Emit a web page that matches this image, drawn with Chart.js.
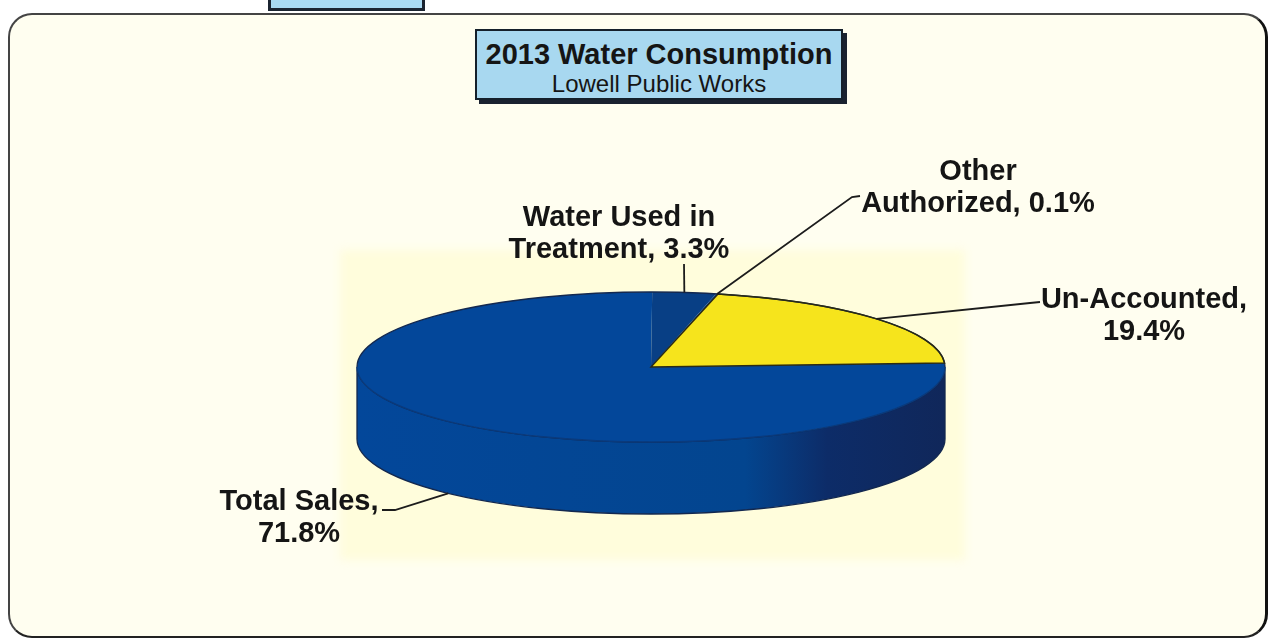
<!DOCTYPE html>
<html>
<head>
<meta charset="utf-8">
<title>2013 Water Consumption</title>
<script src="https://cdn.jsdelivr.net/npm/chart.js@4"></script>
<style>
    html, body { margin: 0; padding: 0; background: #fff; overflow: hidden; }
    body { width: 1269px; height: 638px; position: relative; font-family: "Liberation Sans", Arial, sans-serif; color: #151515; }
    #tab { position: absolute; left: 268px; top: -4px; width: 151px; height: 9px; background: #a9daf2; border: 3px solid #1b2430; }
    #frame { position: absolute; left: 8px; top: 13px; width: 1255px; height: 621px; box-sizing: content-box; background: #fffef0;
        border-top: 2px solid #444; border-left: 2px solid #444; border-right: 3px solid #111; border-bottom: 2px solid #222; border-radius: 24px; }
    #glow { position: absolute; left: 340px; top: 250px; width: 625px; height: 310px; background: #fffddc; filter: blur(4px); }
    #titleBox { position: absolute; left: 475px; top: 29px; width: 364px; height: 67px; background: #a8d8f0; border: 2px solid #15202b;
        box-shadow: 4px 4px 0 #1a2230; text-align: center; }
    #titleBox .main { font-size: 29px; font-weight: bold; line-height: 34px; margin-top: 6px; white-space: nowrap; }
    #titleBox .sub { font-size: 24px; line-height: 25px; white-space: nowrap; }
    canvas { position: absolute; left: 0; top: 0; }
</style>
</head>
<body>
<div id="tab"></div>
<div id="frame"></div>
<div id="glow"></div>
<div id="titleBox">
    <div class="main">2013 Water Consumption</div>
    <div class="sub">Lowell Public Works</div>
</div>
<canvas id="myChart" width="1269" height="638"></canvas>
<script>
const categories = ['Total Sales', 'Water Used in Treatment', 'Other Authorized', 'Un-Accounted']
const shares = [71.8, 3.3, 0.1, 19.4]
const sliceColors = ['#03479a', '#083f85', '#083f85', '#f6e41c']

// how each label is broken and where it sits, same order as categories
const labelLines = [
    ['Total Sales,', '71.8%'],
    ['Water Used in', 'Treatment, 3.3%'],
    ['Other', 'Authorized, 0.1%'],
    ['Un-Accounted,', '19.4%']
]
const labelSpots = [
    { x: 299, y: 502, leader: [[395, 510], [382, 510]] },
    { x: 619, y: 218, leader: [[684, 264]] },
    { x: 978, y: 172, leader: [[852, 197], [860, 196]] },
    { x: 1144, y: 300, leader: [[1030, 303], [1040, 302]] }
]

const radiusX = 294
const radiusY = 75
const depth = 72

// Chart.js only draws round pies, so squash its arcs into the tilted disc
const flatPie = {
    id: 'flatPie',
    beforeDatasetDraw(chart) {
        const ctx = chart.ctx
        const arcs = chart.getDatasetMeta(0).data
        const { x, y, outerRadius } = arcs[0].getProps(['x', 'y', 'outerRadius'], true)

        const squash = (offsetY) => {
            ctx.translate(x, y + offsetY)
            ctx.scale(radiusX / outerRadius, radiusY / outerRadius)
        }
        const strokeOval = (from, to, color) => {
            ctx.save()
            ctx.beginPath()
            ctx.save()
            squash(0)
            ctx.arc(0, 0, outerRadius, from, to)
            ctx.restore()
            ctx.strokeStyle = color
            ctx.lineWidth = 1.3
            ctx.stroke()
            ctx.restore()
        }

        // side wall
        const wall = ctx.createLinearGradient(x - radiusX, 0, x + radiusX, 0)
        wall.addColorStop(0, '#03479a')
        wall.addColorStop(0.66, '#03458f')
        wall.addColorStop(0.8, '#0d2c68')
        wall.addColorStop(1, '#10275a')
        ctx.save()
        ctx.beginPath()
        ctx.save()
        squash(0)
        ctx.arc(0, 0, outerRadius, 0, Math.PI)
        ctx.restore()
        ctx.save()
        squash(depth)
        ctx.arc(0, 0, outerRadius, Math.PI, 0, true)
        ctx.restore()
        ctx.closePath()
        ctx.fillStyle = wall
        ctx.fill()
        ctx.strokeStyle = '#13284f'
        ctx.lineWidth = 1.3
        ctx.stroke()
        ctx.restore()

        // top face, using the library's arc elements
        arcs.forEach((arc) => {
            ctx.save()
            squash(0)
            ctx.translate(-x, -y)
            arc.draw(ctx)
            ctx.restore()
        })

        // outlines go after the transform so the pen stays round
        strokeOval(0, Math.PI, '#0a3a7c')
        strokeOval(Math.PI, Math.PI * 2, '#13284f')

        const yellow = arcs[arcs.length - 1].getProps(['startAngle', 'endAngle'], true)
        ctx.save()
        ctx.beginPath()
        ctx.save()
        squash(0)
        ctx.moveTo(0, 0)
        ctx.arc(0, 0, outerRadius, yellow.startAngle, yellow.endAngle)
        ctx.closePath()
        ctx.restore()
        ctx.strokeStyle = '#2a2a14'
        ctx.lineWidth = 1.4
        ctx.stroke()
        ctx.restore()

        return false
    },
    afterDatasetsDraw(chart) {
        const ctx = chart.ctx
        const arcs = chart.getDatasetMeta(0).data

        arcs.forEach((arc, i) => {
            const { x, y, startAngle, endAngle } = arc.getProps(['x', 'y', 'startAngle', 'endAngle'], true)
            const mid = (startAngle + endAngle) / 2
            const spot = labelSpots[i]
            const onFront = Math.sin(mid) > 0

            ctx.beginPath()
            ctx.moveTo(x + radiusX * Math.cos(mid), y + radiusY * Math.sin(mid) + (onFront ? depth : 0))
            spot.leader.forEach(p => ctx.lineTo(p[0], p[1]))
            ctx.strokeStyle = '#1c1c1c'
            ctx.lineWidth = 1.8
            ctx.stroke()

            ctx.fillStyle = '#151515'
            ctx.font = 'bold 29px "Liberation Sans", Arial, sans-serif'
            ctx.textAlign = 'center'
            ctx.textBaseline = 'middle'
            labelLines[i].forEach((line, n) => ctx.fillText(line, spot.x, spot.y + n * 32))
        })
    }
}

new Chart(document.getElementById('myChart'), {
    type: 'pie',
    data: {
        labels: categories,
        datasets: [{
            data: shares,
            backgroundColor: sliceColors,
            borderWidth: 0
        }]
    },
    options: {
        responsive: false,
        animation: false,
        rotation: 87,
        layout: { padding: { left: 451, right: 418, top: 167, bottom: 71 } },
        plugins: {
            legend: { display: false },
            tooltip: { enabled: false }
        }
    },
    plugins: [flatPie]
})
</script>
</body>
</html>
